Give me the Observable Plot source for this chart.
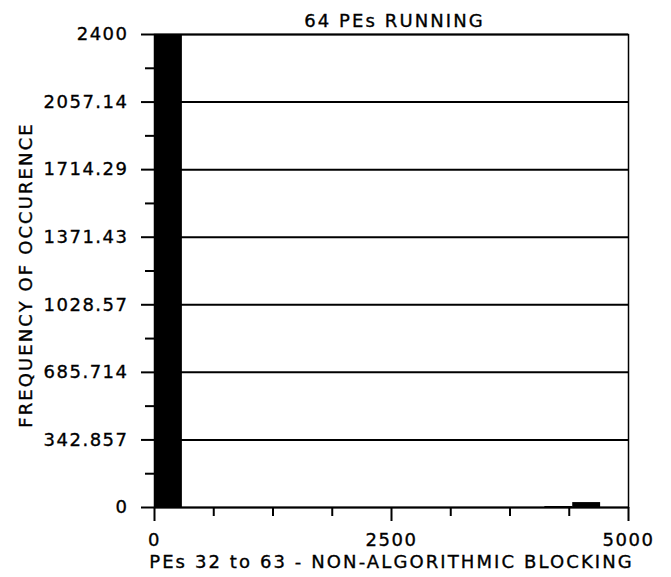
<!DOCTYPE html>
<html>
<head>
<meta charset="utf-8">
<script src="https://cdn.jsdelivr.net/npm/d3@7"></script>
<script src="https://cdn.jsdelivr.net/npm/@observablehq/plot@0.6"></script>
<style>
  html, body { margin: 0; padding: 0; background: #fff; }
  #chart svg text { stroke: #000; stroke-width: 0.35px; }
  #chart svg text.wide-label { letter-spacing: 2.1px; }
</style>
</head>
<body>
<div id="chart"></div>
<script>
// Histogram of blocking time for PEs 32 to 63 (64 PEs running), 17 equal bins over 0–5000
const xMax = 5000;
const binCount = 17;
const counts = [2700, 0, 0, 0, 0, 0, 0, 0, 0, 0, 0, 0, 0, 0, 5, 25, 0];

const yTickValues = [0, 2400 / 7, 4800 / 7, 7200 / 7, 9600 / 7, 12000 / 7, 14400 / 7, 2400];
const yTickLabels = ["0", "342.857", "685.714", "1028.57", "1371.43", "1714.29", "2057.14", "2400"];
const yMinorTicks = [1200 / 7, 3600 / 7, 6000 / 7, 8400 / 7, 10800 / 7, 13200 / 7, 15600 / 7];
const xTickValues = [0, 2500, 5000];
const xMinorTicks = [625, 1250, 1875, 3125, 3750, 4375];

const titleText = "64 PEs RUNNING";
const xLabelText = "PEs 32 to 63 - NON-ALGORITHMIC BLOCKING";
const yLabelText = "FREQUENCY OF OCCURENCE";

const binWidth = xMax / binCount;
const bins = counts.map((c, i) => ({x1: i * binWidth, x2: (i + 1) * binWidth, count: c}));

const chart = Plot.plot({
  width: 671,
  height: 577,
  marginLeft: 154,
  marginRight: 43,
  marginTop: 34,
  marginBottom: 70,
  style: {fontFamily: "'DejaVu Sans', sans-serif", fontSize: "18px", letterSpacing: "1.5px", background: "#fff", color: "#000"},
  x: {domain: [0, xMax], label: null, axis: null},
  y: {domain: [0, 2400], label: null, axis: null},
  marks: [
    Plot.rectY(bins, {x1: "x1", x2: "x2", y: "count", fill: "#000", clip: true}),
    Plot.ruleY(yTickValues, {stroke: "#000", strokeWidth: 2}),
    Plot.frame({stroke: "#000", strokeWidth: 1.5}),
    Plot.axisY({
      ticks: yTickValues, tickSize: 13, tickPadding: 13, strokeWidth: 2,
      tickFormat: d => yTickLabels[yTickValues.indexOf(d)], label: null
    }),
    Plot.axisY({ticks: yMinorTicks, tickSize: 9, strokeWidth: 2, tickFormat: null, text: null, label: null}),
    Plot.axisX({
      ticks: xTickValues, tickSize: 14, tickPadding: 12, strokeWidth: 2,
      tickFormat: d => String(d), label: null
    }),
    Plot.axisX({ticks: xMinorTicks, tickSize: 9, strokeWidth: 2, tickFormat: null, text: null, label: null}),
    Plot.text([titleText], {frameAnchor: "top", lineAnchor: "bottom", dy: -8, dx: 3, fill: "#000"}),
    Plot.text([xLabelText], {frameAnchor: "bottom", lineAnchor: "bottom", dy: 60, fill: "#000"}),
    Plot.text([yLabelText], {frameAnchor: "left", textAnchor: "middle", rotate: -90, dx: -128, dy: 4, fill: "#000"})
  ]
});

// The title and axis titles are set a little wider than the tick labels
const wideTexts = new Set([titleText, xLabelText, yLabelText]);
chart.querySelectorAll("text").forEach(t => {
  if (wideTexts.has(t.textContent)) t.classList.add("wide-label");
});
document.getElementById("chart").appendChild(chart);
</script>
</body>
</html>
